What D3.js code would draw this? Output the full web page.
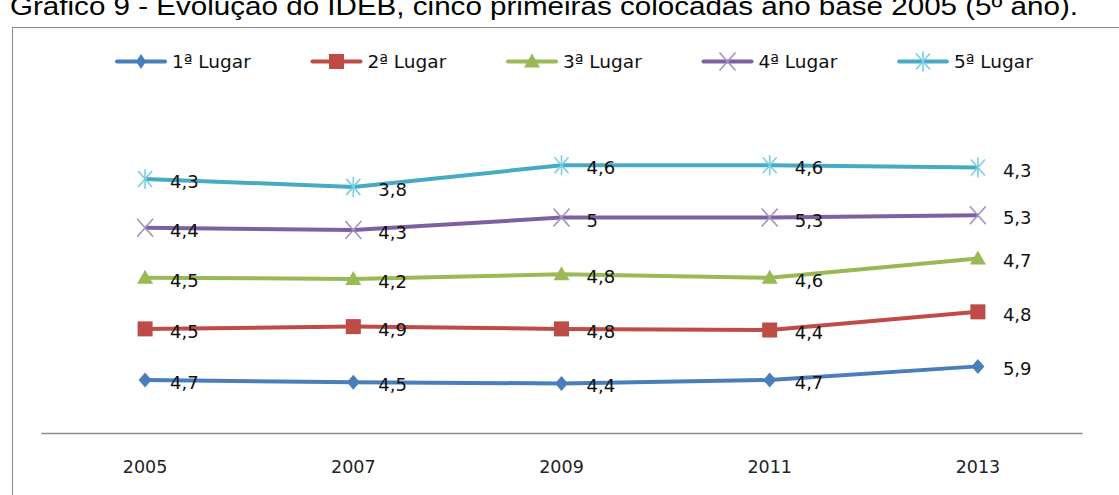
<!DOCTYPE html>
<html><head><meta charset="utf-8">
<script src="https://cdn.jsdelivr.net/npm/d3@7"></script>
<style>body{margin:0;background:#fff;}svg{display:block;}</style>
</head><body>
<svg id="c" width="1119" height="495"></svg>
<script>
const title = "Gráfico 9 - Evolução do IDEB, cinco primeiras colocadas ano base 2005 (5º ano).";
const years = ["2005","2007","2009","2011","2013"];
const seriesNames = ["1ª Lugar","2ª Lugar","3ª Lugar","4ª Lugar","5ª Lugar"];
// plotted (stacked) values
const lugar1 = [4.7, 4.5, 4.4, 4.7, 5.9];
const lugar2 = [4.5, 4.9, 4.8, 4.4, 4.8];
const lugar3 = [4.5, 4.2, 4.8, 4.6, 4.7];
const lugar4 = [4.4, 4.3, 5.0, 5.3, 3.8];
const lugar5 = [4.3, 3.8, 4.6, 4.6, 4.2];
// data label texts as printed
const labels1 = ["4,7","4,5","4,4","4,7","5,9"];
const labels2 = ["4,5","4,9","4,8","4,4","4,8"];
const labels3 = ["4,5","4,2","4,8","4,6","4,7"];
const labels4 = ["4,4","4,3","5","5,3","5,3"];
const labels5 = ["4,3","3,8","4,6","4,6","4,3"];

const allVals = [lugar1,lugar2,lugar3,lugar4,lugar5];
const allLabels = [labels1,labels2,labels3,labels4,labels5];
const colors = ["#4a7ebb","#be4b48","#98b954","#7d60a0","#46aac5"];
const markerColors = ["#4a7ebb","#be4b48","#98b954","#a58fc4","#7ccde0"];
const FONT = "DejaVu Sans, sans-serif";

const svg = d3.select("#c");

// title (partly cut off at top, as in the source)
svg.append("text").attr("x",10).attr("y",15)
  .attr("font-family","Liberation Sans, Arial, sans-serif").attr("font-size",25)
  .attr("fill","#000").attr("textLength",1068).attr("lengthAdjust","spacingAndGlyphs")
  .text(title);

// chart border
svg.append("rect").attr("x",12.5).attr("y",27.5).attr("width",1130).attr("height",500)
  .attr("fill","none").attr("stroke","#8c8c8c").attr("stroke-width",1);

const rows = years.map((y,i)=>{const r={year:y}; seriesNames.forEach((s,j)=>r[s]=allVals[j][i]); return r;});
const stacked = d3.stack().keys(seriesNames)(rows);

const x = d3.scaleBand().domain(years).range([41,1082]).padding(0);
const cx = d => x(d) + x.bandwidth()/2;
const y = d3.scaleLinear().domain([0,30]).range([433.4,92.6]);

// axis
const ax = svg.append("g").attr("transform","translate(0,433)")
  .call(d3.axisBottom(x).tickSize(0).tickPadding(0));
ax.select(".domain").attr("stroke","#8c8c8c").attr("stroke-width",1.5);
ax.selectAll(".tick text").attr("y",35).attr("dy",null).attr("dominant-baseline","middle")
  .attr("font-family",FONT).attr("font-size",17.5).attr("fill","#222");

const line = d3.line().x((d,i)=>cx(years[i])).y(d=>y(d[1]));

function marker(g, k, px, py, legend){
  const c = markerColors[k];
  if(k===0){
    const w = legend?5:6.5, h=7.5;
    g.append("path").attr("d",`M${px},${py-h}L${px+w},${py}L${px},${py+h}L${px-w},${py}Z`).attr("fill",c);
  } else if(k===1){
    g.append("rect").attr("x",px-7.5).attr("y",py-7.5).attr("width",15).attr("height",15).attr("fill",c);
  } else if(k===2){
    g.append("path").attr("d",`M${px},${py-8}L${px+8},${py+6}L${px-8},${py+6}Z`).attr("fill",c);
  } else if(k===3){
    g.append("path").attr("d",`M${px-8},${py-9}L${px+8},${py+9}M${px-8},${py+9}L${px+8},${py-9}`)
      .attr("stroke",c).attr("stroke-width",1.6).attr("fill","none");
  } else {
    g.append("path").attr("d",`M${px-7},${py-8}L${px+7},${py+8}M${px-7},${py+8}L${px+7},${py-8}M${px},${py-10}L${px},${py+10}`)
      .attr("stroke",c).attr("stroke-width",1.6).attr("fill","none");
  }
}

stacked.forEach((s,k)=>{
  const g = svg.append("g");
  g.append("path").datum(s).attr("d",line).attr("fill","none")
    .attr("stroke",colors[k]).attr("stroke-width",4).attr("stroke-linejoin","round");
  s.forEach((d,i)=>marker(g,k,cx(years[i]),y(d[1]),false));
});
// data labels
stacked.forEach((s,k)=>{
  s.forEach((d,i)=>{
    svg.append("text").attr("x",cx(years[i])+25).attr("y",y(d[1])+4)
      .attr("dominant-baseline","middle").attr("font-family",FONT)
      .attr("font-size",18).attr("fill","#111").text(allLabels[k][i]);
  });
});

// legend
seriesNames.forEach((n,k)=>{
  const lx = 117 + k*195.5, ly = 61.5;
  const g = svg.append("g");
  g.append("line").attr("x1",lx).attr("x2",lx+48).attr("y1",ly).attr("y2",ly)
    .attr("stroke",colors[k]).attr("stroke-width",4).attr("stroke-linecap","round");
  marker(g,k,lx+24,ly,true);
  g.append("text").attr("x",lx+55).attr("y",ly+1).attr("dominant-baseline","middle")
    .attr("font-family",FONT).attr("font-size",18.5).attr("fill","#111").text(n);
});
</script>
</body></html>
